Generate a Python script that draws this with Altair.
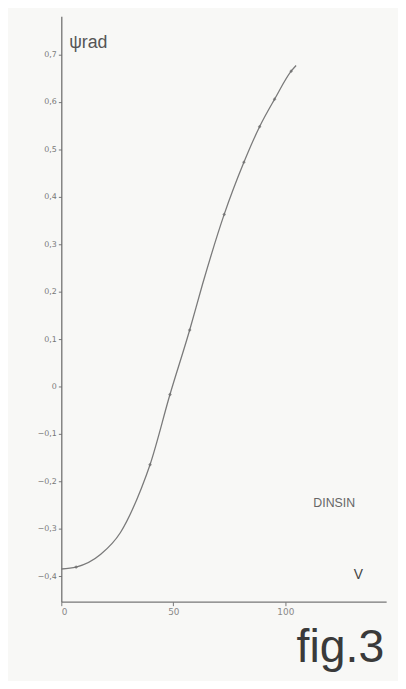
import altair as alt
import pandas as pd

# curve (V, phi_rad)
v_vals = [0, 6.6, 17.6, 26.4, 35.7, 39.6, 48.5, 57.3, 63.0, 72.7, 81.5, 88.5, 95.2, 102.6, 104.8]
phi_vals = [-0.385, -0.381, -0.354, -0.308, -0.215, -0.165, -0.017, 0.119, 0.215, 0.363, 0.473, 0.548, 0.606, 0.665, 0.677]

# measured points marked on the curve
pt_v = [6.6, 39.6, 48.5, 57.3, 72.7, 81.5, 88.5, 95.2, 102.6]
pt_phi = [-0.381, -0.165, -0.017, 0.119, 0.363, 0.473, 0.548, 0.606, 0.665]

y_ticks = [0.7, 0.6, 0.5, 0.4, 0.3, 0.2, 0.1, 0, -0.1, -0.2, -0.3, -0.4]
x_ticks = [0, 50, 100]

labels_text = ["\u03c8rad", "V", "DINSIN", "fig.3"]
labels_v = [3.5, 130.5, 112.5, 105]
labels_phi = [0.725, -0.398, -0.246, -0.552]
labels_size = [18, 14, 12.5, 47]
labels_color = ["#555555", "#444444", "#666666", "#3a3a3a"]

curve = pd.DataFrame({"v": v_vals, "phi": phi_vals})
pts = pd.DataFrame({"v": pt_v, "phi": pt_phi})
lab = pd.DataFrame({"t": labels_text, "v": labels_v, "phi": labels_phi,
                    "s": labels_size, "c": labels_color})

xs = alt.Scale(domain=[0, 145], nice=False)
ys = alt.Scale(domain=[-0.454, 0.781], nice=False)

xaxis = alt.Axis(values=x_ticks, title=None, grid=False, domainColor="#777777",
                 tickColor="#777777", tickSize=4, labelColor="#888888", labelFontSize=9,
                 labelFont="DejaVu Sans", domainWidth=1.2)
yaxis = alt.Axis(values=y_ticks, title=None, grid=False, domainColor="#666666",
                 tickColor="#777777", tickSize=3, labelColor="#777777", labelFontSize=8,
                 labelFont="DejaVu Sans", domainWidth=1.2,
                 labelExpr="datum.value == 0 ? '0' : replace(format(datum.value, '.1f'), '.', ',')")

line = alt.Chart(curve).mark_line(interpolate="monotone", color="#7a7a7a", strokeWidth=1.3).encode(
    x=alt.X("v:Q", scale=xs, axis=xaxis),
    y=alt.Y("phi:Q", scale=ys, axis=yaxis),
)

marks = alt.Chart(pts).mark_point(shape="diamond", filled=True, size=14, color="#6a6a6a").encode(
    x=alt.X("v:Q", scale=xs),
    y=alt.Y("phi:Q", scale=ys),
)

texts = alt.Chart(lab).mark_text(font="Liberation Sans", align="left", baseline="middle").encode(
    x=alt.X("v:Q", scale=xs),
    y=alt.Y("phi:Q", scale=ys),
    text="t:N",
    size=alt.Size("s:Q", scale=None, legend=None),
    color=alt.Color("c:N", scale=None, legend=None),
)

chart = (line + marks + texts).properties(
    width=329, height=593,
    autosize=alt.AutoSizeParams(type="none"),
    padding={"left": 54, "top": 4, "right": 12, "bottom": 76},
    background="#f8f8f6",
).configure_view(stroke=None)

chart.save("out.html", embed_options={"renderer": "svg", "actions": False})
